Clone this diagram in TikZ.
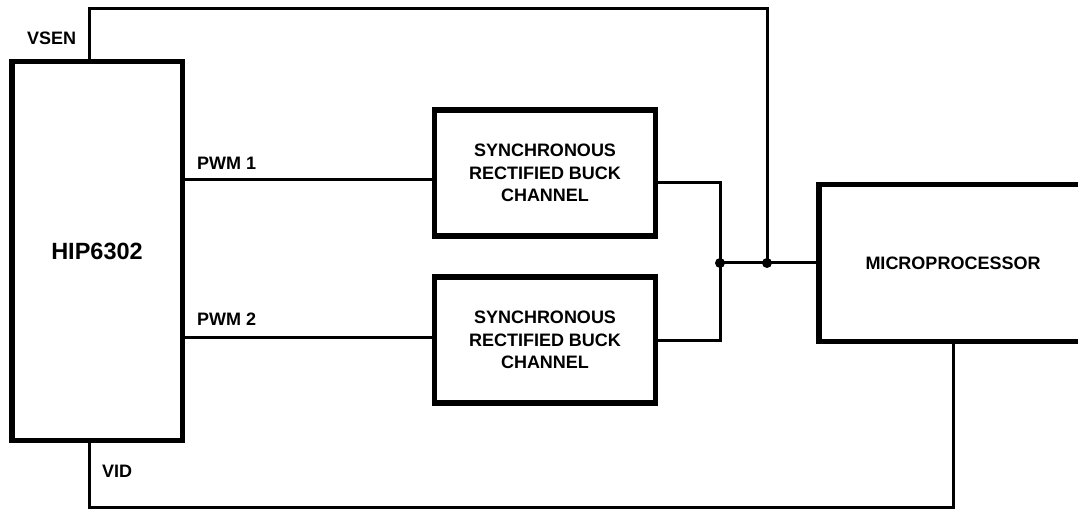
\documentclass[tikz,border=0pt]{standalone}
\usepackage{fontspec}
\setmainfont{Liberation Sans}
\usetikzlibrary{calc, positioning}

\begin{document}
\begin{tikzpicture}[
            x=1pt, y=-1pt,
            chipnode/.style={rectangle, draw=black, line width=5.5pt, outer sep=0pt, minimum width=170.5pt, minimum height=378.5pt, font=\fontsize{23.5}{27}\selectfont\bfseries},
            bucknode/.style={rectangle, draw=black, line width=5.5pt, outer sep=0pt, minimum width=221pt, minimum height=126pt, align=center, font=\fontsize{18}{22.5}\selectfont\bfseries},
            cpunode/.style={rectangle, draw=black, line width=5.5pt, outer sep=0pt, minimum width=268pt, minimum height=156.5pt, font=\fontsize{18}{22}\selectfont\bfseries},
            pinlabel/.style={inner sep=0pt, anchor=west, font=\fontsize{18}{22}\selectfont\bfseries},
            wire/.style={line width=3pt},
            ]
            \useasboundingbox (0,0) rectangle (1078,510);
            \clip (0,0) rectangle (1078,510);

            %Nodes
            \node[chipnode]      (hip)                          at (97,251)  {HIP6302};
            \node[bucknode]      (buckA)                        at (545,173) {SYNCHRONOUS\\RECTIFIED BUCK\\CHANNEL};
            \node[bucknode]      (buckB)   [below=41pt of buckA]             {SYNCHRONOUS\\RECTIFIED BUCK\\CHANNEL};
            \node[cpunode]       (micro)                        at (953,263) {MICROPROCESSOR};
            \coordinate (join) at (720,263);
            \coordinate (tap)  at (767,263);

            %Labels
            \node[pinlabel] (vsen) at (27,38)  {VSEN};
            \node[pinlabel] (pwmA) at (197,163) {PWM 1};
            \node[pinlabel] (pwmB) at (197,319) {PWM 2};
            \node[pinlabel] (vid)  at (102,471) {VID};

            %Lines
            \draw[wire] ($(hip.east |- buckA.west)+(0,7)$) -- ($(buckA.west)+(0,7)$);
            \draw[wire] ($(hip.east |- buckB.west)+(0,-3)$) -- ($(buckB.west)+(0,-3)$);
            \draw[wire] ($(buckA.east)+(0,10)$) -| (join) |- (buckB.east);
            \draw[wire] (join) -- (micro.west);
            \draw[wire] ($(hip.north west)+(78,0)$) |- ($(tap)+(0,-254)$) -- (tap);
            \draw[wire] ($(hip.south west)+(78,0)$) |- ($(micro.south)+(0,166)$) -- (micro.south);
            \fill (join) circle (5pt);
            \fill (tap) circle (5pt);
          \end{tikzpicture}
\end{document}
